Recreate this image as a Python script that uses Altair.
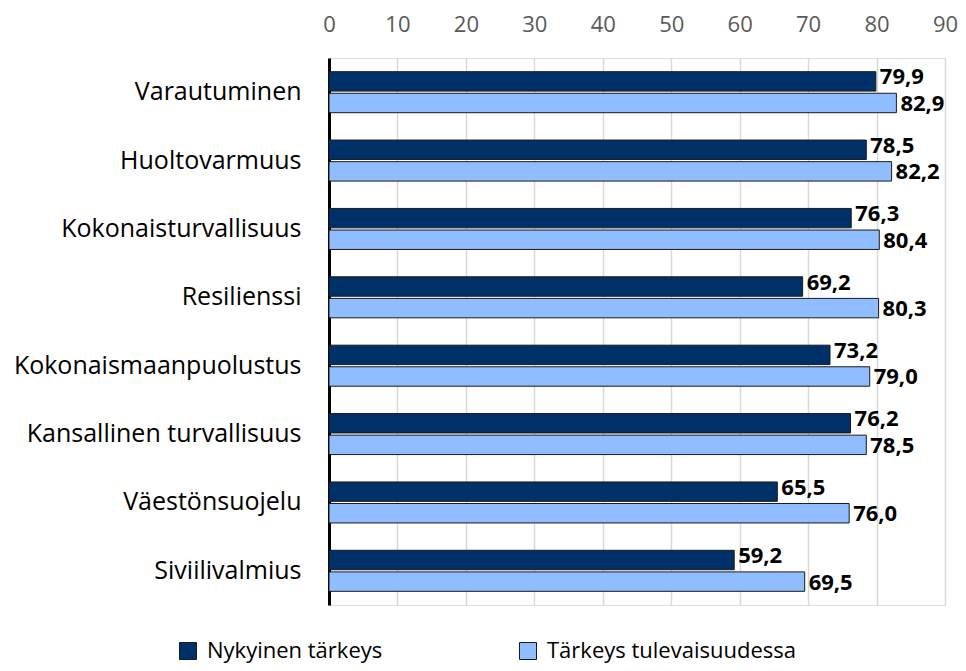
import altair as alt
import pandas as pd

categories = ["Varautuminen", "Huoltovarmuus", "Kokonaisturvallisuus", "Resilienssi",
              "Kokonaismaanpuolustus", "Kansallinen turvallisuus", "Väestönsuojelu", "Siviilivalmius"]
series = ["Nykyinen tärkeys", "Tärkeys tulevaisuudessa"]
current = [79.9, 78.5, 76.3, 69.2, 73.2, 76.2, 65.5, 59.2]
future = [82.9, 82.2, 80.4, 80.3, 79.0, 78.5, 76.0, 69.5]
colors = ["#003068", "#8FBDFF"]
x_ticks = [0, 10, 20, 30, 40, 50, 60, 70, 80, 90]

rows = []
for c, a, b in zip(categories, current, future):
    for s, v in zip(series, (a, b)):
        rows.append({"cat": c, "series": s, "value": v,
                     "label": f"{v:.1f}".replace(".", ",")})
df = pd.DataFrame(rows)

FONT = "Open Sans"

y_enc = alt.Y("cat:N", sort=categories,
              scale=alt.Scale(paddingInner=0.4, paddingOuter=0.2),
              axis=alt.Axis(title=None, labelFontSize=25, labelColor="#000000",
                            labelFont=FONT, labelPadding=28, ticks=False,
                            domainColor="#000000", domainWidth=3, labelLimit=400))
yoff = alt.YOffset("series:N", sort=series, scale=alt.Scale(paddingInner=0.1))
x_enc = alt.X("value:Q", scale=alt.Scale(domain=[0, 90], nice=False),
              axis=alt.Axis(orient="top", title=None, values=x_ticks, labelFontSize=22,
                            labelColor="#595959", labelFont=FONT, ticks=False,
                            domain=False, labelPadding=22, gridColor="#d9d9d9",
                            gridWidth=1.5, labelFlush=False))

bars = alt.Chart(df).mark_bar(stroke="#1a1a1a", strokeWidth=1).encode(
    y=y_enc, yOffset=yoff, x=x_enc,
    color=alt.Color("series:N", sort=series,
                    scale=alt.Scale(domain=series, range=colors),
                    legend=alt.Legend(title=None, orient="none", direction="horizontal",
                                      legendX=-152, legendY=582, symbolType="square",
                                      symbolSize=290, symbolStrokeColor="#1a1a1a",
                                      symbolStrokeWidth=1, labelFontSize=22,
                                      labelFont=FONT, labelColor="#000000",
                                      labelOffset=8,
                                      columnPadding=134, labelLimit=400)),
)

def label_layer(s, dy):
    return alt.Chart(df).transform_filter(alt.datum.series == s).mark_text(
        align="left", baseline="middle", dx=4, dy=dy,
        fontSize=22, fontWeight="bold", font=FONT, color="#000000").encode(
        y=alt.Y("cat:N", sort=categories),
        yOffset=alt.YOffset("series:N", sort=series),
        x=alt.X("value:Q"), text="label:N")

chart = (bars + label_layer(series[0], -4) + label_layer(series[1], 1)).properties(
    width=616, height=547,
    autosize=alt.AutoSizeParams(type="none"),
    padding={"left": 321, "top": 50, "right": 13, "bottom": 58},
).configure_view(stroke=None).configure(background="#ffffff")

chart.save("out.html", embed_options={"renderer": "svg", "actions": False})
